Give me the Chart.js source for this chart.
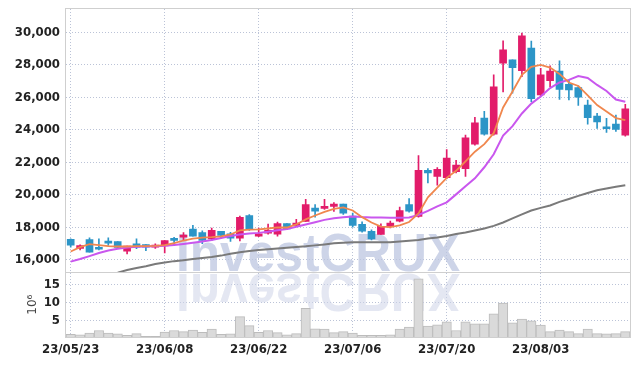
<!DOCTYPE html>
<html><head><meta charset="utf-8">
<script src="https://cdn.jsdelivr.net/npm/chart.js@4.4.0/dist/chart.umd.min.js"></script>
<style>html,body{margin:0;padding:0;background:#fff;}canvas{display:block;}</style>
</head><body>
<canvas id="c" width="639" height="366"></canvas>
<script>
const dates = ['23/05/23','23/05/24','23/05/25','23/05/26','23/05/30','23/05/31','23/06/01','23/06/02','23/06/05','23/06/07',
 '23/06/08','23/06/09','23/06/12','23/06/13','23/06/14','23/06/15','23/06/16','23/06/19','23/06/20','23/06/21',
 '23/06/22','23/06/23','23/06/26','23/06/27','23/06/28','23/06/29','23/06/30','23/07/03','23/07/04','23/07/05',
 '23/07/06','23/07/07','23/07/10','23/07/11','23/07/12','23/07/13','23/07/14','23/07/17','23/07/18','23/07/19',
 '23/07/20','23/07/21','23/07/24','23/07/25','23/07/26','23/07/27','23/07/28','23/07/31','23/08/01','23/08/02',
 '23/08/03','23/08/04','23/08/07','23/08/08','23/08/09','23/08/10','23/08/11','23/08/14','23/08/16','23/08/17'];
const dateTicks = ['23/05/23','23/06/08','23/06/22','23/07/06','23/07/20','23/08/03'];
const openP  = [17270,16710,17250,16760,17150,17130,16530,16990,16940,16780,16860,17320,17390,17890,17680,17290,17750,17600,17330,18730,
 17460,17640,17580,18240,18120,18360,19190,19170,19290,19430,18700,18180,17750,17560,18050,18380,19410,18670,21510,21140,
 21060,21430,21620,23120,24730,23740,28110,28310,27650,29040,26150,27030,27630,26810,26600,25530,24850,24190,24360,23680];
const highP  = [17300,16920,17360,17290,17360,17130,16840,17290,16940,16990,17190,17380,17680,18130,17780,17950,17750,17700,18690,18780,
 17950,18200,18320,18240,18490,19720,19400,19720,19520,19430,18880,18340,17850,18220,18380,19250,19770,22420,21620,21680,
 22790,22130,23680,24770,25140,27390,29490,28310,29960,29470,27800,27940,28250,27080,26710,25840,25020,24710,24910,25580];
const lowP   = [16780,16610,16470,16610,16880,16720,16370,16680,16570,16710,16430,16900,17190,17460,17000,17190,17330,17130,17170,17810,
 17420,17580,17460,17850,18100,18360,18630,19100,18980,18800,18010,17700,17230,17560,17970,18340,18940,18630,20730,20590,
 21000,21350,21140,23060,23680,23680,26340,26260,27280,25740,26090,26660,25880,25840,25510,24360,24090,23850,23900,23620];
const closeP = [16900,16880,16470,16650,17020,16770,16840,16780,16780,16880,17190,17200,17520,17460,17190,17810,17500,17330,18610,17910,
 17600,17810,18240,17910,18260,19410,19000,19250,19430,18880,18120,17760,17290,18070,18260,19040,19000,21510,21350,21580,
 22270,21840,23510,24440,23740,26660,28930,27840,29800,25920,27390,27630,26500,26460,26010,24750,24500,24070,24030,25300];
const ma5  = [16510,16780,16970,16910,16850,16820,16820,16850,16850,16860,16910,17030,17190,17310,17370,17400,17450,17560,17810,17860,
 17870,17930,18000,17990,18180,18490,18730,18950,19140,19230,19040,18630,18300,18050,18010,18120,18330,18860,19850,20450,
 21050,21480,22070,22660,23120,23800,25380,26370,27390,27880,28000,27840,27450,26920,26710,26120,25530,25130,24730,24600];
const ma20 = [15890,16050,16230,16420,16570,16680,16760,16800,16820,16840,16870,16920,16980,17050,17130,17220,17350,17470,17560,17620,
 17660,17730,17820,17900,18040,18180,18320,18460,18560,18620,18670,18630,18610,18600,18590,18590,18610,18760,19010,19290,
 19540,20030,20530,21020,21700,22500,23650,24230,25010,25620,26060,26580,26920,27080,27320,27200,26770,26400,25870,25730];
const ma60 = [null,null,null,null,null,15210,15370,15500,15610,15740,15830,15920,15980,16050,16120,16170,16260,16370,16470,16540,
 16600,16650,16700,16740,16790,16830,16890,16950,17020,17050,17080,17080,17080,17080,17090,17130,17180,17220,17310,17370,
 17470,17590,17680,17810,17930,18090,18300,18550,18800,19040,19200,19350,19570,19750,19940,20120,20280,20390,20500,20590];
const volume = [1.15,1.0,1.5,2.2,1.5,1.25,0.9,1.35,0.6,0.6,1.8,2.2,1.9,2.35,1.7,2.6,1.15,1.25,6.1,3.55,
 1.7,2.2,1.6,1.0,1.35,8.4,2.7,2.6,1.6,1.9,1.5,0.9,0.9,0.9,1.0,2.6,3.2,16.6,3.45,3.8,
 4.6,2.2,4.6,4.1,4.1,6.85,9.85,4.35,5.4,4.9,3.7,1.9,2.35,1.9,1.35,2.6,1.35,1.25,1.35,1.9];
const priceTicks = [16000,18000,20000,22000,24000,26000,28000,30000];
const volumeTicks = [5,10,15];
const watermark = 'InvestCRUX';

const FONT = "'DejaVu Sans Condensed','Liberation Sans Narrow','Liberation Sans',sans-serif";
const UP = '#e21c6a', DOWN = '#2c95c7';
const candleColors = openP.map((o,i)=> closeP[i] >= o ? UP : DOWN);
const GRID = 'rgba(170,180,205,0.8)';
const tickFont = { family: FONT, size: 13, weight: 'bold' };

const decor = {
  id: 'decor',
  beforeDatasetsDraw(chart) {
    const ctx = chart.ctx, a = chart.chartArea, ys = chart.scales.y, yv = chart.scales.yv;
    ctx.save();
    ctx.font = "bold 53px 'Liberation Sans', Arial, sans-serif";
    const w = ctx.measureText(watermark).width;
    const sx = 284 / w;
    ctx.beginPath(); ctx.rect(a.left, ys.top, a.right - a.left, ys.bottom - ys.top); ctx.clip();
    ctx.translate(176, ys.bottom - 1); ctx.scale(sx, 1);
    ctx.fillStyle = 'rgba(188,198,224,0.75)';
    ctx.fillText(watermark, 0, 0);
    ctx.restore();
    ctx.save();
    ctx.font = "bold 53px 'Liberation Sans', Arial, sans-serif";
    ctx.beginPath(); ctx.rect(a.left, yv.top, a.right - a.left, yv.bottom - yv.top); ctx.clip();
    ctx.translate(176, yv.top + 2); ctx.scale(sx, -1);
    ctx.fillStyle = 'rgba(205,212,232,0.55)';
    ctx.fillText(watermark, 0, 0);
    ctx.restore();
  },
  afterDraw(chart) {
    const ctx = chart.ctx, a = chart.chartArea, ys = chart.scales.y;
    ctx.save();
    ctx.strokeStyle = '#cfcfcf'; ctx.lineWidth = 1;
    ctx.strokeRect(Math.round(a.left) - 0.5, Math.round(a.top) - 0.5, Math.round(a.right - a.left) + 1, Math.round(a.bottom - a.top) + 1);
    ctx.beginPath(); ctx.moveTo(a.left, Math.round(ys.bottom) + 0.5); ctx.lineTo(a.right, Math.round(ys.bottom) + 0.5); ctx.stroke();
    ctx.restore();
  }
};

new Chart(document.getElementById('c'), {
  type: 'bar',
  data: {
    labels: dates,
    datasets: [
      { type: 'line', data: ma5, yAxisID: 'y', borderColor: '#f0874e', borderWidth: 1.8, pointRadius: 0, tension: 0, order: 1 },
      { type: 'line', data: ma20, yAxisID: 'y', borderColor: '#c957ee', borderWidth: 2, pointRadius: 0, tension: 0, order: 2 },
      { type: 'line', data: ma60, yAxisID: 'y', borderColor: '#7a7a7a', borderWidth: 2, pointRadius: 0, tension: 0, order: 3 },
      { data: openP.map((o,i)=>[Math.min(o,closeP[i]), Math.max(o,closeP[i])]), yAxisID: 'y', backgroundColor: candleColors,
        barThickness: 7, grouped: false, minBarLength: 2, order: 4 },
      { data: lowP.map((l,i)=>[l, highP[i]]), yAxisID: 'y', backgroundColor: candleColors,
        barThickness: 1, grouped: false, order: 5 },
      { data: volume, yAxisID: 'yv', backgroundColor: '#dadada', borderColor: '#bcbcbc', borderWidth: 1,
        barPercentage: 1, categoryPercentage: 1, grouped: false, order: 6 }
    ]
  },
  options: {
    responsive: false, animation: false, devicePixelRatio: 1,
    layout: { padding: { top: 9, right: 9, left: 0, bottom: 0 } },
    plugins: { legend: { display: false }, tooltip: { enabled: false } },
    scales: {
      x: {
        type: 'category', offset: true,
        grid: { offset: false, drawTicks: false, color: (c) => (c.index % 10 === 0 ? GRID : 'rgba(0,0,0,0)'), borderDash: [1,2] },
        border: { display: false, dash: [1,2] },
        ticks: { autoSkip: false, maxRotation: 0, minRotation: 0, padding: 5, color: '#222', font: tickFont,
          callback: (v, i) => dateTicks.includes(dates[i]) ? dates[i] : '' },
        afterFit: (s) => { s.height = 29; s.paddingLeft = 0; s.paddingRight = 0; }
      },
      yv: {
        type: 'linear', position: 'left', stack: 'p', stackWeight: 1, min: 0.4, max: 18.4,
        afterBuildTicks: (s) => { s.ticks = volumeTicks.map(v => ({ value: v })); },
        grid: { drawTicks: false, color: GRID, borderDash: [1,2] },
        border: { display: false, dash: [1,2] },
        ticks: { autoSkip: false, padding: 6, color: '#222', font: tickFont },
        title: { display: true, text: '10\u2076', color: '#444', font: { family: "'DejaVu Sans', sans-serif", size: 12 }, padding: { top: 26, bottom: 0 } },
        afterFit: (s) => { s.width = 66; s.paddingTop = 0; s.paddingBottom = 0; }
      },
      y: {
        type: 'linear', position: 'left', stack: 'p', stackWeight: 4.08, min: 15224, max: 31446,
        afterBuildTicks: (s) => { s.ticks = priceTicks.map(v => ({ value: v })); },
        grid: { drawTicks: false, color: GRID, borderDash: [1,2] },
        border: { display: false, dash: [1,2] },
        ticks: { autoSkip: false, padding: 6, color: '#222', font: tickFont,
          callback: (v) => v.toLocaleString('en-US') },
        afterFit: (s) => { s.width = 66; s.paddingTop = 0; s.paddingBottom = 0; }
      }
    }
  },
  plugins: [decor]
});
</script>
</body></html>
